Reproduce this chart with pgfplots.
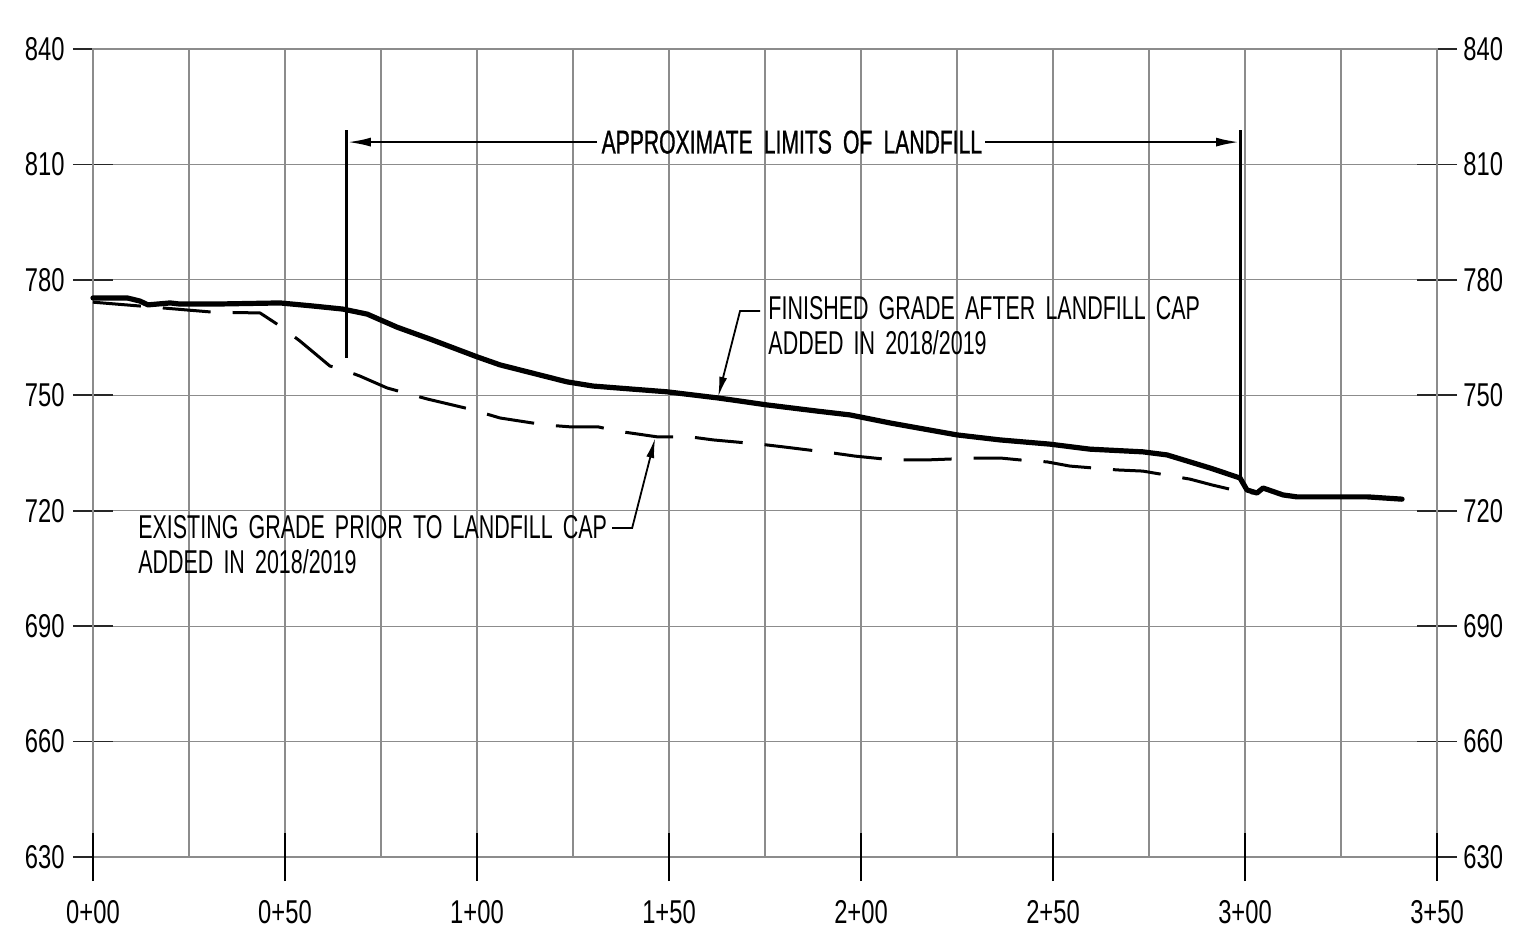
\documentclass[border=0pt]{standalone}
\usepackage{fontspec}
\setmainfont[FakeStretch=0.65, WordSpace=1.7]{Liberation Sans}
\newfontfamily\tickfont[FakeStretch=0.72]{Liberation Sans}
\newfontfamily\boldcad[FakeStretch=0.64, FakeBold=0.8, WordSpace=1.9]{Liberation Sans}
\usepackage{pgfplots}
\pgfplotsset{compat=1.18}
\usetikzlibrary{arrows.meta}
\begin{document}
\begin{tikzpicture}
\begin{axis}[
  at={(0,0)}, anchor=south west,
  scale only axis, width=672pt, height=404pt,
  xmin=0, xmax=350, ymin=630, ymax=840,
  xtick={0,50,...,350},
  xticklabels={0+00,0+50,1+00,1+50,2+00,2+50,3+00,3+50},
  minor xtick={25,75,...,325},
  ytick={630,660,...,840},
  grid=both,
  major grid style={draw=black!45, line width=0.6pt},
  minor grid style={draw=black!45, line width=0.6pt},
  axis line style={draw=black!45, line width=0.6pt},
  tick align=center,
  major tick length=20pt,
  minor tick length=0pt,
  xtick style={draw=none},
  ytick pos=both,
  ytick style={draw=black!85, line width=0.8pt},
  yticklabel pos=left,
  ticklabel style={font=\tickfont\fontsize{16.5}{19}\selectfont, inner sep=0pt},
  /pgf/number format/assume math mode=true,
  yticklabel style={anchor=east, xshift=-4pt},
  xticklabel style={anchor=north, yshift=-11.5pt},
  clip=false,
]
\addplot[black, line width=2.6pt, line join=round, line cap=round] coordinates {
(0,775.3) (8.9,775.3) (12.2,774.5) (14.3,773.5) (20.1,774.0) (22.7,773.7)
(31.3,773.7) (48.7,774.0) (57.3,773.2) (65.1,772.4) (71.4,771.1) (79.2,767.7)
(87.8,764.6) (100,760.0) (106.0,757.9) (123.4,753.5) (130.2,752.4) (149.5,750.9)
(162.8,749.3) (175.5,747.5) (188.5,745.9) (197.1,744.9) (207.6,742.8) (225.0,739.7)
(236.2,738.4) (249.2,737.3) (259.6,736.0) (273.4,735.3) (279.7,734.5) (290.9,731.1)
(298.7,728.5) (300.5,725.4) (303.1,724.6) (304.7,725.9) (309.9,724.1) (313.5,723.6)
(331.8,723.6) (340.9,723.0)
};
\addplot[black, line width=1.5pt, line join=round, dash pattern=on 24pt off 11pt] coordinates {
(0,774.2) (12.2,773.2) (31.3,771.6) (43.5,771.4) (48.7,768.0) (53.9,764.1)
(61.7,757.6) (63.8,757.1) (69.5,755.0) (76.6,751.9) (81.3,750.6) (87.2,749.0)
(98.2,746.4) (106.0,744.1) (117.7,742.3) (124.2,741.8) (131.5,741.8) (136.5,740.7)
(146.9,739.2) (155.5,739.2) (161.5,738.4) (173.7,737.3) (179.7,736.6) (192.7,735.0)
(198.4,734.2) (208.3,733.2) (217.2,733.2) (230.2,733.7) (236.2,733.7) (244.5,732.9)
(248.4,732.7) (254.4,731.6) (266.7,730.6) (273.4,730.3) (285.7,728.2) (291.4,726.7)
(296.9,725.4) (302.1,724.6)
};
% limits of landfill
\draw[black, line width=1.5pt] (axis cs:66.1,818.9) -- (axis cs:66.1,759.7);
\draw[black, line width=1.5pt] (axis cs:298.7,818.9) -- (axis cs:298.7,728.8);
\draw[black, line width=1.3pt, -{Latex[length=12pt,width=4.5pt]}] (axis cs:131.3,815.8) -- (axis cs:66.1,815.8);
\draw[black, line width=1.3pt, -{Latex[length=12pt,width=4.5pt]}] (axis cs:232.3,815.8) -- (axis cs:298.7,815.8);
\node[inner sep=0pt, font=\boldcad\fontsize{16.5}{19}\selectfont] at (axis cs:182.0,815.8) {APPROXIMATE LIMITS OF LANDFILL};
% finished grade label
\node[anchor=base west, inner sep=0pt, font=\fontsize{16.5}{19}\selectfont] at (axis cs:175.8,769.8) {FINISHED GRADE AFTER LANDFILL CAP};
\node[anchor=base west, inner sep=0pt, font=\fontsize{16.5}{19}\selectfont] at (axis cs:175.8,760.7) {ADDED IN 2018/2019};
\draw[black, line width=0.9pt, -{Latex[length=10pt,width=4pt]}] (axis cs:173.7,771.9) -- (axis cs:168.5,771.9) -- (axis cs:162.8,749.6);
% existing grade label
\node[anchor=base west, inner sep=0pt, font=\fontsize{16.5}{19}\selectfont] at (axis cs:11.7,712.9) {EXISTING GRADE PRIOR TO LANDFILL CAP};
\node[anchor=base west, inner sep=0pt, font=\fontsize{16.5}{19}\selectfont] at (axis cs:11.7,703.8) {ADDED IN 2018/2019};
\draw[black, line width=0.9pt, -{Latex[length=10pt,width=4pt]}] (axis cs:135.2,715.5) -- (axis cs:140.4,715.5) -- (axis cs:146.4,738.9);
\end{axis}
\begin{axis}[
  at={(0,0)}, anchor=south west,
  scale only axis, width=672pt, height=404pt,
  xmin=0, xmax=350, ymin=630, ymax=840,
  axis line style={draw=none},
  xtick={0,50,...,350}, xticklabels={},
  xtick pos=bottom,
  ytick={630,660,...,840},
  ytick style={draw=none},
  yticklabel pos=right,
  tick align=center,
  major tick length=24pt,
  xtick style={draw=black, line width=0.8pt},
  ticklabel style={font=\tickfont\fontsize{16.5}{19}\selectfont, inner sep=0pt},
  /pgf/number format/assume math mode=true,
  yticklabel style={anchor=west, xshift=1pt},
]
\end{axis}
\pgfresetboundingbox
\path[use as bounding box] (-46.5pt,-37pt) rectangle (720.5pt,428.5pt);
\end{tikzpicture}
\end{document}
